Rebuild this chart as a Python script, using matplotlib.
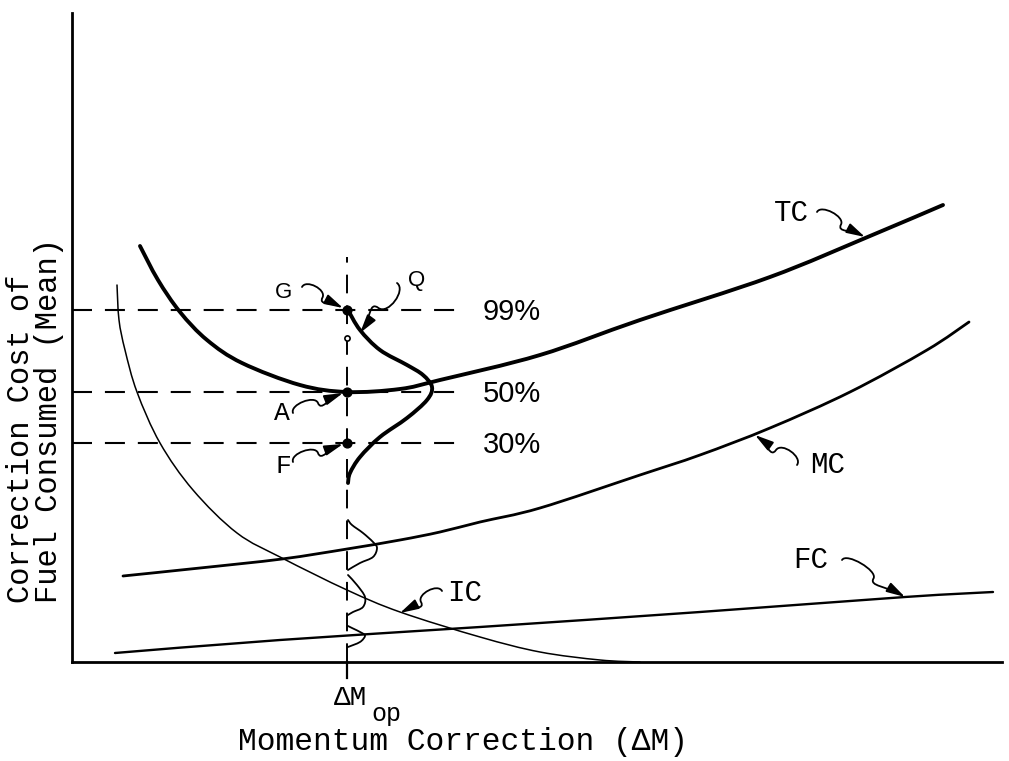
import numpy as np
import matplotlib
matplotlib.use('Agg')
import matplotlib.pyplot as plt
from matplotlib.path import Path
from matplotlib.patches import FancyArrowPatch, PathPatch

MONO = ['Liberation Mono', 'DejaVu Sans Mono']

# curves (momentum correction, cost)
tc_x = [6.8, 8.6, 10.8, 13.5, 17.0, 22.8, 27.5, 32.8, 36.8, 46.8, 56.8, 69.8, 79.8, 87.1]
tc_y = [41.6, 38.2, 35.0, 32.2, 29.9, 27.7, 27.0, 27.3, 28.2, 30.7, 34.2, 38.5, 42.6, 45.7]

mc_x = [5.1, 12.8, 21.0, 27.5, 32.8, 36.8, 40.8, 46.8, 56.8, 62.8, 69.8, 77.8, 85.5, 89.7]
mc_y = [8.6, 9.4, 10.3, 11.3, 12.2, 13.0, 14.0, 15.4, 18.7, 20.7, 23.4, 27.0, 31.2, 34.0]

ic_x = [4.5, 4.7, 5.3, 6.5, 8.8, 12.1, 16.5, 21.0, 27.5, 32.8, 40.8, 46.8, 52.8, 56.8]
ic_y = [37.7, 34.2, 31.2, 27.0, 21.9, 17.2, 12.9, 10.4, 7.2, 5.0, 2.5, 1.0, 0.2, 0.0]

fc_x = [4.3, 20.8, 40.8, 62.8, 83.3, 92.1]
fc_y = [0.9, 2.2, 3.5, 5.0, 6.5, 7.0]

# distributions drawn at the optimum correction
dm_op = 27.5
bell_x = [27.6, 28.8, 30.8, 33.5, 35.1, 36.0, 35.5, 33.5, 30.8, 28.8, 27.8, 27.6]
bell_y = [35.2, 33.2, 31.2, 29.7, 28.7, 27.5, 26.2, 24.4, 22.5, 20.5, 18.9, 17.9]
mc_dist_x = [27.6, 28.0, 29.1, 30.1, 30.5, 30.1, 28.8, 27.6]
mc_dist_y = [14.2, 13.7, 12.9, 12.0, 11.4, 10.5, 9.9, 9.2]
ic_dist_x = [27.6, 28.5, 29.3, 29.1, 28.1, 27.6]
ic_dist_y = [8.7, 7.7, 6.5, 5.5, 5.0, 4.7]
fc_dist_x = [27.6, 28.0, 29.0, 29.3, 28.8, 27.6]
fc_dist_y = [3.6, 3.4, 2.9, 2.6, 2.0, 1.5]

levels = [35.2, 27.0, 21.9]
level_labels = ['99%', '50%', '30%']
level_ends = [38.6, 38.6, 39.5]


def smooth(ax, xs, ys, lw):
    # bezier path through the read points (catmull-rom handles)
    p = np.column_stack([xs, ys]).astype(float)
    ext = np.vstack([p[0], p, p[-1]])
    verts = [p[0]]
    codes = [Path.MOVETO]
    for i in range(len(p) - 1):
        a, b, c, d = ext[i], ext[i + 1], ext[i + 2], ext[i + 3]
        verts += [b + (c - a) / 6, c - (d - b) / 6, c]
        codes += [Path.CURVE4] * 3
    ax.add_patch(PathPatch(Path(verts, codes), fill=False, lw=lw, edgecolor='black',
                           capstyle='round', joinstyle='round'))


def squiggle(ax, start, end, k=0.9, lw=1.3):
    p0 = np.array(start, dtype=float)
    p1 = np.array(end, dtype=float)
    u = p1 - p0
    n = np.array([-u[1], u[0]]) / np.hypot(*u) * k
    m = (p0 + p1) / 2
    verts = [p0, p0 + n, m + n, m, m - n, p1 - u * 0.3, p1]
    codes = [Path.MOVETO] + [Path.CURVE4] * 6
    arr = FancyArrowPatch(path=Path(verts, codes), arrowstyle='-|>,head_length=0.8,head_width=0.22',
                          mutation_scale=14, color='black', lw=lw, transform=ax.transData)
    ax.add_patch(arr)


fig = plt.figure(figsize=(10.09, 7.61), dpi=100)
ax = fig.add_axes([72 / 1009, 99 / 761, 930 / 1009, 649 / 761])
ax.set_xlim(0, 93)
ax.set_ylim(0, 64.9)
for s in ['top', 'right']:
    ax.spines[s].set_visible(False)
for s in ['left', 'bottom']:
    ax.spines[s].set_linewidth(2.0)
ax.set_xticks([])
ax.set_yticks([])

smooth(ax, tc_x, tc_y, 2.8)
smooth(ax, mc_x, mc_y, 2.0)
smooth(ax, ic_x, ic_y, 1.1)
smooth(ax, fc_x, fc_y, 1.7)

smooth(ax, bell_x, bell_y, 2.8)
for dx, dy in [(mc_dist_x, mc_dist_y), (ic_dist_x, ic_dist_y), (fc_dist_x, fc_dist_y)]:
    smooth(ax, dx, dy, 1.3)

# dashed guides
dash = (0, (9.6, 6.2))
ax.plot([dm_op, dm_op], [0, 40.5], color='black', lw=1.4, linestyle=dash)
ax.plot([dm_op, dm_op], [0, -1.6], color='black', lw=1.6, clip_on=False)
for lev, lab, xe in zip(levels, level_labels, level_ends):
    ax.plot([0, xe], [lev, lev], color='black', lw=1.5, linestyle=dash)
    ax.text(41.1, lev - 0.2, lab, fontsize=21, family='Liberation Sans', ha='left', va='center')

ax.scatter([dm_op] * 3, levels, s=40, color='black', zorder=5)
ax.scatter([dm_op], [32.4], s=14, facecolor='white', edgecolor='black', lw=1.2, zorder=5)

# point labels with curly arrows
ax.text(21.1, 37.0, 'G', fontsize=16, family='Liberation Sans', ha='center', va='center')
squiggle(ax, (23.0, 37.5), (27.1, 35.4))
ax.text(34.5, 38.2, 'Q', fontsize=16, family='Liberation Sans', ha='center', va='center')
squiggle(ax, (32.5, 37.9), (28.8, 32.9), k=1.2)
ax.text(21.0, 24.9, 'A', fontsize=19, family=MONO, ha='center', va='center')
squiggle(ax, (22.1, 24.9), (27.1, 26.9))
ax.text(21.1, 19.6, 'F', fontsize=19, family=MONO, ha='center', va='center')
squiggle(ax, (22.1, 20.0), (27.1, 21.8))

# curve labels
ax.text(71.9, 44.9, 'TC', fontsize=21, family=MONO, ha='center', va='center')
squiggle(ax, (74.5, 45.0), (79.3, 42.5))
ax.text(75.6, 19.7, 'MC', fontsize=21, family=MONO, ha='center', va='center')
squiggle(ax, (72.5, 19.7), (68.3, 22.7), k=-1.0)
ax.text(73.9, 10.2, 'FC', fontsize=21, family=MONO, ha='center', va='center')
squiggle(ax, (77.0, 10.2), (83.3, 6.5))
ax.text(39.3, 6.9, 'IC', fontsize=21, family=MONO, ha='center', va='center')
squiggle(ax, (37.0, 7.1), (32.8, 4.9), k=-0.9)

# axis labels
ax.text(27.9, -3.6, 'ΔM', fontsize=20, family=MONO, ha='center', va='center')
ax.text(31.4, -5.2, 'op', fontsize=18, family=MONO, ha='center', va='center')
ax.text(39.1, -8.0, 'Momentum Correction (ΔM)', fontsize=22.5, family=MONO, ha='center', va='center')
ax.text(-3.7, 5.9, 'Correction Cost of\nFuel Consumed (Mean)', fontsize=22, family=MONO,
        rotation=90, ha='center', va='bottom', multialignment='left', linespacing=0.95)

fig.savefig('out.png', dpi=100)
